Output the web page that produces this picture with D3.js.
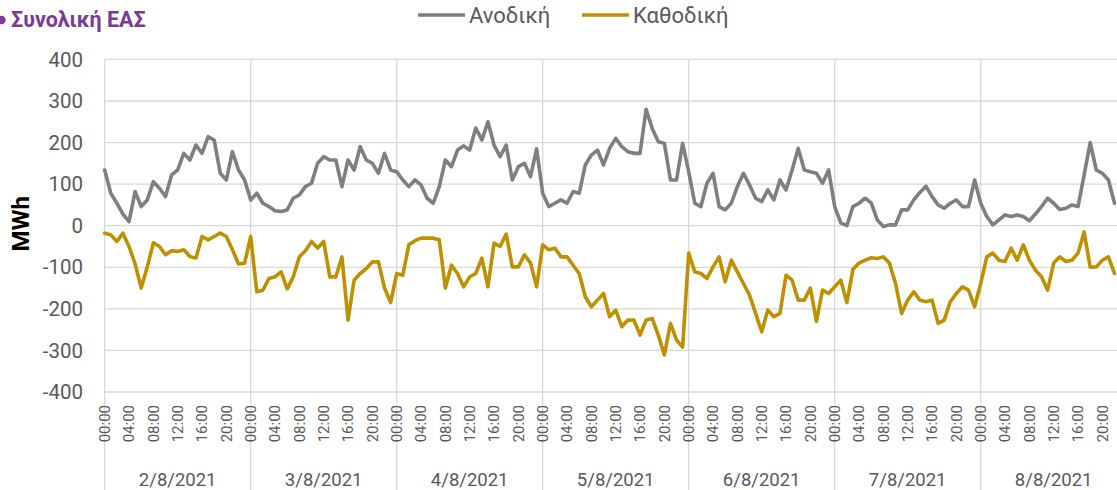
<!DOCTYPE html>
<html>
<head>
<meta charset="utf-8">
<script src="https://cdn.jsdelivr.net/npm/d3@7"></script>
<style>
  body { margin: 0; background: #fff; }
  svg { display: block; font-family: Roboto, "Noto Sans", sans-serif; }
</style>
</head>
<body>
<div id="chart"></div>
<script>
// ── Données ──
const days = ['2/8/2021', '3/8/2021', '4/8/2021', '5/8/2021', '6/8/2021', '7/8/2021', '8/8/2021'];
const tickHours = ['00:00', '04:00', '08:00', '12:00', '16:00', '20:00'];
const yTicks = [400, 300, 200, 100, 0, -100, -200, -300, -400];

// valeurs horaires (MWh), une ligne par jour
const anodiki = [
  134, 78, 54, 28, 10, 82, 46, 62, 106, 90, 70, 122, 134, 174, 158, 194, 174, 214, 206, 126, 110, 178, 134, 110,
  62, 78, 54, 46, 36, 34, 38, 66, 74, 94, 102, 150, 166, 158, 158, 94, 158, 134, 190, 158, 150, 126, 174, 134,
  130, 110, 94, 110, 98, 66, 54, 94, 158, 142, 182, 192, 182, 235, 206, 250, 194, 166, 194, 110, 142, 150, 118, 185,
  78, 46, 54, 62, 54, 82, 78, 146, 170, 182, 146, 186, 210, 190, 178, 174, 174, 280, 234, 202, 198, 110, 110, 198,
  130, 54, 46, 102, 126, 46, 38, 54, 94, 126, 98, 66, 58, 86, 62, 110, 86, 134, 186, 134, 130, 126, 102, 134,
  46, 7, 0, 46, 54, 66, 55, 14, -2, 2, 2, 38, 38, 62, 80, 95, 70, 50, 42, 54, 62, 46, 46, 110,
  54, 22, 2, 14, 26, 22, 26, 22, 12, 28, 46, 66, 54, 39, 42, 50, 46, 122, 200, 134, 126, 110, 54
];
const kathodiki = [
  -18, -22, -38, -18, -50, -92, -150, -99, -41, -50, -70, -60, -62, -58, -74, -78, -26, -34, -26, -18, -26, -58, -92, -90,
  -26, -159, -155, -127, -123, -111, -152, -123, -75, -60, -38, -54, -38, -123, -123, -75, -227, -131, -115, -103, -87, -87, -150, -185,
  -115, -119, -46, -36, -30, -30, -30, -34, -150, -95, -115, -147, -123, -115, -78, -147, -42, -50, -20, -99, -99, -70, -90, -147,
  -46, -58, -54, -75, -75, -95, -115, -171, -195, -179, -163, -219, -203, -243, -227, -227, -263, -227, -223, -263, -311, -235, -275, -292,
  -66, -111, -115, -127, -99, -75, -135, -83, -111, -139, -167, -211, -255, -203, -219, -211, -119, -131, -179, -179, -150, -230, -155, -163,
  -147, -131, -185, -105, -90, -83, -77, -79, -75, -90, -139, -211, -179, -159, -179, -183, -179, -235, -227, -183, -163, -147, -155, -195,
  -139, -75, -66, -83, -86, -54, -83, -46, -83, -107, -123, -155, -90, -75, -86, -83, -66, -15, -100, -99, -83, -75, -115
];

const seriesNames = ['Ανοδική', 'Καθοδική'];
const seriesColors = ['#7f7f7f', '#bf9000'];

// ── Mise en page ──
const width = 1117, height = 490;
const left = 104.7, dayW = 146;
const textColor = '#595959', gridColor = '#d9d9d9';

const svg = d3.select('#chart').append('svg')
  .attr('width', width)
  .attr('height', height);

const x = d3.scaleLinear()
  .domain([0, days.length * 24])
  .range([left, left + dayW * days.length]);

const y = d3.scaleLinear()
  .domain([-400, 400])
  .range([392, 59.4]);

// grille horizontale
svg.append('g')
  .selectAll('line')
  .data(yTicks)
  .join('line')
  .attr('x1', left).attr('x2', width)
  .attr('y1', d => y(d)).attr('y2', d => y(d))
  .attr('stroke', gridColor).attr('stroke-width', 1.3);

// séparateurs de jours (descendent jusque sous les étiquettes)
svg.append('g')
  .selectAll('line')
  .data(d3.range(days.length))
  .join('line')
  .attr('x1', d => x(d * 24)).attr('x2', d => x(d * 24))
  .attr('y1', y(400)).attr('y2', height)
  .attr('stroke', gridColor).attr('stroke-width', 1.3);

// étiquettes Y
svg.append('g')
  .selectAll('text')
  .data(yTicks)
  .join('text')
  .attr('x', 83)
  .attr('y', d => y(d))
  .attr('dy', '0.35em')
  .attr('text-anchor', 'end')
  .attr('font-size', 20.5)
  .attr('fill', textColor)
  .text(d => d);

svg.append('text')
  .attr('transform', `translate(29,${y(0) - 2}) rotate(-90)`)
  .attr('text-anchor', 'middle')
  .attr('font-size', 24)
  .attr('font-weight', 'bold')
  .attr('fill', '#000')
  .text('MWh');

// étiquettes horaires
const hourTicks = [];
days.forEach((d, i) => tickHours.forEach((t, j) => hourTicks.push({ pos: i * 24 + j * 4, label: t })));

svg.append('g')
  .selectAll('text')
  .data(hourTicks)
  .join('text')
  .attr('transform', d => `translate(${x(d.pos)},405) rotate(-90)`)
  .attr('dy', '0.35em')
  .attr('text-anchor', 'end')
  .attr('font-size', 15)
  .attr('fill', textColor)
  .text(d => d.label);

// étiquettes de dates
svg.append('g')
  .selectAll('text')
  .data(days)
  .join('text')
  .attr('x', (d, i) => x(i * 24 + 12))
  .attr('y', 486)
  .attr('text-anchor', 'middle')
  .attr('font-size', 18.5)
  .attr('fill', textColor)
  .text(d => d);

// ── Courbes ──
const line = d3.line()
  .x((d, i) => x(i))
  .y(d => y(d));

[anodiki, kathodiki].forEach((values, k) => {
  svg.append('path')
    .datum(values)
    .attr('d', line)
    .attr('fill', 'none')
    .attr('stroke', seriesColors[k])
    .attr('stroke-width', 3.6)
    .attr('stroke-linejoin', 'round')
    .attr('stroke-linecap', 'round');
});

// ── Légende ──
const legendX = [418, 582];
seriesNames.forEach((name, k) => {
  svg.append('line')
    .attr('x1', legendX[k]).attr('x2', legendX[k] + 47)
    .attr('y1', 15).attr('y2', 15)
    .attr('stroke', seriesColors[k]).attr('stroke-width', 3.4);
  svg.append('text')
    .attr('x', legendX[k] + 51)
    .attr('y', 15)
    .attr('dy', '0.35em')
    .attr('font-size', 22)
    .attr('fill', textColor)
    .text(name);
});

// ── Titre ──
svg.append('circle')
  .attr('cx', 1.5).attr('cy', 20)
  .attr('r', 4.2)
  .attr('fill', '#7b3a96');
svg.append('text')
  .attr('x', 11)
  .attr('y', 27)
  .attr('font-size', 21.5)
  .attr('font-weight', 'bold')
  .attr('fill', '#7b3a96')
  .text('Συνολική ΕΑΣ');
</script>
</body>
</html>
